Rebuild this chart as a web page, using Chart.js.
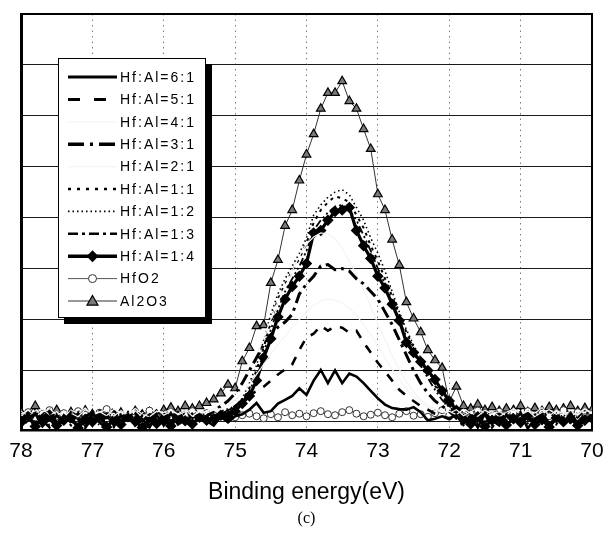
<!DOCTYPE html>
<html>
<head>
<meta charset="utf-8">
<script src="https://cdn.jsdelivr.net/npm/chart.js@4.4.1/dist/chart.umd.min.js"></script>
<style>
  html, body { margin: 0; padding: 0; background: #ffffff; }
  #wrap { width: 614px; height: 538px; }
</style>
</head>
<body>
<div id="wrap"><canvas id="c" width="614" height="538"></canvas></div>
<script>
// ---- data (binding energy in eV, intensity in arbitrary units: one grid step = 1) ----
const energy = [78.0,77.9,77.8,77.7,77.6,77.5,77.4,77.3,77.2,77.1,
  77.0,76.9,76.8,76.7,76.6,76.5,76.4,76.3,76.2,76.1,
  76.0,75.9,75.8,75.7,75.6,75.5,75.4,75.3,75.2,75.1,
  75.0,74.9,74.8,74.7,74.6,74.5,74.4,74.3,74.2,74.1,
  74.0,73.9,73.8,73.7,73.6,73.5,73.4,73.3,73.2,73.1,
  73.0,72.9,72.8,72.7,72.6,72.5,72.4,72.3,72.2,72.1,
  72.0,71.9,71.8,71.7,71.6,71.5,71.4,71.3,71.2,71.1,
  71.0,70.9,70.8,70.7,70.6,70.5,70.4,70.3,70.2,70.1,70.0];

const seriesNames = ['Hf:Al=6:1','Hf:Al=5:1','Hf:Al=4:1','Hf:Al=3:1','Hf:Al=2:1',
  'Hf:Al=1:1','Hf:Al=1:2','Hf:Al=1:3','Hf:Al=1:4','HfO2','Al2O3'];

const hf61 = [-0.05,0.08,0.15,-0.10,0.05,-0.12,0.12,0.00,-0.06,0.10,
  0.18,-0.02,-0.14,0.06,0.02,0.14,-0.08,0.04,-0.12,0.12,
  -0.04,0.16,-0.06,0.03,-0.10,0.13,0.01,-0.08,0.09,-0.02,
  0.10,0.14,0.23,0.36,0.17,0.20,0.35,0.42,0.50,0.65,
  0.52,0.80,1.01,0.75,1.00,0.75,0.94,0.88,0.75,0.60,
  0.45,0.33,0.26,0.24,0.23,0.28,0.18,0.02,0.05,0.10,
  0.06,0.12,-0.04,0.10,-0.12,0.15,0.02,-0.08,0.12,-0.02,
  0.17,-0.14,0.05,0.13,-0.06,0.08,-0.03,0.16,-0.10,0.04,0.11];

const hf51 = [0.10,-0.06,0.16,0.02,-0.12,0.12,-0.02,0.18,0.04,-0.09,
  0.14,0.00,0.08,-0.11,0.15,0.03,-0.05,0.11,0.02,0.14,
  -0.08,0.06,-0.01,0.12,-0.04,0.09,0.02,0.07,0.15,0.20,
  0.30,0.40,0.50,0.60,0.68,0.80,0.92,1.02,1.12,1.40,
  1.65,1.72,1.88,1.78,1.86,1.84,1.74,1.78,1.55,1.35,
  1.15,0.98,0.80,0.62,0.50,0.40,0.30,0.23,0.15,0.10,
  0.04,0.12,-0.07,0.06,0.15,-0.10,0.09,-0.02,0.14,0.03,
  -0.08,0.11,0.01,0.16,-0.04,0.08,-0.09,0.13,0.02,0.10,-0.03];

const hf41 = [0.14,0.22,0.10,0.18,0.25,0.12,0.20,0.16,0.09,0.23,
  0.15,0.19,0.11,0.24,0.17,0.13,0.21,0.08,0.18,0.26,
  0.12,0.20,0.15,0.23,0.10,0.19,0.16,0.22,0.25,0.32,
  0.42,0.55,0.72,0.92,1.12,1.32,1.50,1.68,1.85,2.00,
  2.15,2.28,2.36,2.40,2.38,2.32,2.22,2.08,1.90,1.70,
  1.48,1.25,1.02,0.82,0.64,0.48,0.36,0.28,0.22,0.18,
  0.20,0.13,0.24,0.17,0.10,0.22,0.15,0.19,0.12,0.25,
  0.16,0.21,0.09,0.18,0.23,0.14,0.20,0.11,0.17,0.24,0.15];

const hf31 = [0.02,0.14,-0.09,0.07,0.17,-0.05,0.10,0.01,0.15,-0.12,
  0.08,-0.02,0.13,-0.07,0.11,0.03,0.18,-0.10,0.06,-0.03,
  0.12,0.00,0.09,-0.06,0.14,0.04,0.10,0.20,0.30,0.40,
  0.55,0.75,1.00,1.25,1.50,1.70,1.85,1.95,2.10,2.50,
  2.70,2.85,3.05,3.08,2.98,3.00,2.95,2.80,2.70,2.55,
  2.40,2.15,1.90,1.60,1.30,1.00,0.75,0.55,0.40,0.30,
  0.20,0.06,-0.08,0.11,0.00,0.15,-0.11,0.07,0.02,0.13,
  -0.05,0.09,0.03,0.16,-0.09,0.05,-0.01,0.14,-0.04,0.08,0.02];

const hf21 = [0.20,0.11,0.17,0.24,0.13,0.19,0.08,0.22,0.16,0.26,
  0.12,0.18,0.23,0.10,0.21,0.15,0.25,0.14,0.09,0.20,
  0.17,0.24,0.13,0.19,0.22,0.16,0.20,0.25,0.30,0.40,
  0.55,0.75,1.00,1.30,1.65,2.00,2.35,2.65,2.95,3.25,
  3.48,3.62,3.70,3.68,3.58,3.40,3.15,2.88,2.58,2.25,
  1.92,1.60,1.30,1.02,0.78,0.58,0.42,0.32,0.25,0.20,
  0.16,0.23,0.11,0.19,0.26,0.14,0.21,0.09,0.18,0.24,
  0.13,0.20,0.16,0.27,0.10,0.22,0.15,0.19,0.12,0.25,0.17];

const hf11 = [0.20,0.06,-0.05,0.15,0.24,0.02,0.11,-0.08,0.18,0.07,
  -0.03,0.21,0.10,-0.06,0.16,0.03,0.23,-0.01,0.14,-0.07,
  0.19,0.05,-0.02,0.20,0.08,0.15,0.01,0.12,0.18,0.16,
  0.25,0.40,0.65,1.00,1.45,1.95,2.40,2.70,2.95,3.20,
  3.50,3.90,4.15,4.30,4.42,4.38,4.30,4.05,3.80,3.45,
  3.15,2.80,2.45,2.10,1.75,1.45,1.20,0.95,0.70,0.50,
  0.30,0.20,0.10,0.22,-0.04,0.14,0.02,0.24,-0.08,0.09,
  0.19,0.00,0.15,0.04,0.25,-0.06,0.12,0.20,0.01,0.08,0.17];

const hf12 = [0.15,0.02,0.21,0.06,-0.07,0.17,0.10,-0.04,0.22,0.03,
  0.14,-0.09,0.08,0.19,0.00,0.12,-0.06,0.17,0.05,0.23,
  -0.02,0.10,0.20,0.01,0.13,0.06,0.16,0.09,0.20,0.25,
  0.30,0.45,0.75,1.10,1.60,2.10,2.50,2.80,3.05,3.30,
  3.60,4.05,4.25,4.40,4.50,4.55,4.45,4.20,3.95,3.60,
  3.30,2.95,2.55,2.15,1.80,1.50,1.25,1.00,0.75,0.50,
  0.35,0.20,0.18,0.04,0.13,-0.06,0.21,0.08,-0.02,0.16,
  0.05,0.22,-0.08,0.11,0.19,0.02,0.14,-0.05,0.20,0.07,0.15];

const hf13 = [0.04,0.14,0.24,-0.08,0.08,0.19,0.00,0.15,0.09,-0.10,
  0.21,0.03,0.12,0.26,-0.06,0.17,0.05,0.22,-0.09,0.10,
  0.18,0.01,0.13,0.24,0.06,0.11,0.20,0.08,0.17,0.22,
  0.28,0.38,0.60,0.90,1.35,1.80,2.20,2.55,2.80,3.05,
  3.35,3.75,3.95,4.10,4.22,4.25,4.15,3.95,3.65,3.35,
  3.00,2.70,2.35,2.00,1.65,1.35,1.10,0.85,0.62,0.42,
  0.28,0.18,0.08,0.17,-0.07,0.22,0.10,0.00,0.18,0.05,
  0.24,-0.04,0.13,0.02,0.21,0.09,-0.06,0.16,0.07,0.23,0.01];

const hf14 = [-0.02,0.10,-0.10,0.05,0.13,-0.08,0.02,0.08,-0.13,0.04,
  -0.01,0.11,-0.11,0.03,-0.06,0.09,0.00,-0.12,0.06,-0.04,
  0.05,-0.09,0.10,0.01,-0.05,0.08,0.02,0.05,0.12,0.10,
  0.20,0.35,0.50,0.80,1.25,1.62,2.05,2.40,2.65,2.85,
  3.10,3.70,3.75,3.95,4.12,4.15,4.20,3.75,3.45,3.20,
  2.85,2.62,2.30,1.98,1.55,1.35,1.17,1.00,0.82,0.60,
  0.40,0.22,0.04,-0.05,0.09,-0.10,0.02,0.08,-0.07,0.05,
  -0.02,0.11,-0.06,0.03,-0.11,0.07,-0.01,0.05,-0.08,0.02,0.06];

const hfo2 = [0.12,0.18,0.08,0.15,0.22,0.10,0.16,0.06,0.20,0.13,
  0.09,0.17,0.24,0.11,0.14,0.07,0.19,0.12,0.21,0.09,
  0.15,0.18,0.10,0.13,0.20,0.08,0.16,0.12,0.10,0.14,
  0.08,0.12,0.15,0.10,0.06,0.14,0.08,0.18,0.12,0.15,
  0.10,0.16,0.20,0.14,0.12,0.18,0.22,0.15,0.10,0.13,
  0.17,0.12,0.08,0.15,0.20,0.11,0.14,0.09,0.16,0.22,
  0.12,0.18,0.10,0.15,0.21,0.08,0.14,0.19,0.11,0.16,
  0.09,0.20,0.13,0.17,0.10,0.15,0.22,0.12,0.18,0.08,0.14];

const al2o3 = [0.18,0.12,0.30,0.10,0.15,0.22,0.12,0.18,0.10,0.21,
  0.14,0.10,0.20,0.12,0.17,0.10,0.20,0.13,0.18,0.15,
  0.22,0.27,0.20,0.30,0.25,0.30,0.36,0.43,0.55,0.72,
  0.65,1.18,1.44,1.87,1.89,2.72,3.17,3.84,4.15,4.73,
  5.24,5.64,6.14,6.45,6.45,6.68,6.29,6.14,5.74,5.35,
  4.46,4.15,3.57,3.07,2.34,2.02,1.75,1.40,1.20,1.05,
  0.39,0.68,0.30,0.25,0.33,0.22,0.28,0.20,0.25,0.22,
  0.30,0.18,0.26,0.20,0.28,0.22,0.25,0.30,0.20,0.26,0.22];

const xTicks = [78,77,76,75,74,73,72,71,70];
const yGridValues = [0,1,2,3,4,5,6,7,8];

// ---- helpers ----
function pts(arr) { return arr.map((v, i) => ({ x: energy[i], y: v })); }

function ds(label, values, style) {
  return Object.assign({
    label: label,
    data: pts(values),
    borderColor: '#000000',
    backgroundColor: '#000000',
    borderWidth: 2,
    borderDash: [],
    pointRadius: 0,
    pointHoverRadius: 0,
    tension: 0,
    fill: false
  }, style);
}

const datasets = [
  ds(seriesNames[0], hf61, { borderWidth: 2.6, legendWidth: 3 }),
  ds(seriesNames[1], hf51, { borderWidth: 2.6, borderDash: [9, 9], legendWidth: 3, legendDash: [12, 14] }),
  ds(seriesNames[2], hf41, { borderColor: '#f4f4f4', backgroundColor: '#f4f4f4', borderWidth: 1.2 }),
  ds(seriesNames[3], hf31, { borderWidth: 3, borderDash: [12, 5, 3, 5], legendWidth: 3.5, legendDash: [16, 6, 3, 6] }),
  ds(seriesNames[4], hf21, { borderColor: '#f4f4f4', backgroundColor: '#f4f4f4', borderWidth: 1.2 }),
  ds(seriesNames[5], hf11, { borderWidth: 2, borderDash: [3, 5], legendWidth: 2.5, legendDash: [3, 6] }),
  ds(seriesNames[6], hf12, { borderWidth: 1.6, borderDash: [1.5, 3], legendWidth: 1.6, legendDash: [1.5, 3] }),
  ds(seriesNames[7], hf13, { borderWidth: 1.8, borderDash: [8, 3, 2, 3, 2, 3], legendWidth: 2.5, legendDash: [10, 4, 3, 4] }),
  ds(seriesNames[8], hf14, { borderWidth: 3.2, pointStyle: 'rectRot', pointRadius: 3.5,
       pointBackgroundColor: '#000', pointBorderColor: '#000', legendWidth: 3.5 }),
  ds(seriesNames[9], hfo2, { borderColor: '#555', borderWidth: 1, pointStyle: 'circle', pointRadius: 3.5,
       pointBackgroundColor: '#ffffff', pointBorderColor: '#333', pointBorderWidth: 1, legendWidth: 1 }),
  ds(seriesNames[10], al2o3, { borderColor: '#333', borderWidth: 1, pointStyle: 'triangle', pointRadius: 5,
       pointBackgroundColor: '#7a7a7a', pointBorderColor: '#000', pointBorderWidth: 1.2, legendWidth: 1 })
];

// ---- boxed legend drawn inside the plot (Excel style with black shadow) ----
const boxLegend = {
  id: 'boxLegend',
  afterDraw(chart) {
    const ctx = chart.ctx;
    const bx = 58, by = 58, bw = 148, bh = 260, sh = 6;
    ctx.save();
    ctx.fillStyle = '#000';
    ctx.fillRect(bx + sh, by + sh, bw, bh);
    ctx.fillStyle = '#fff';
    ctx.fillRect(bx, by, bw, bh);
    ctx.strokeStyle = '#000';
    ctx.lineWidth = 1;
    ctx.strokeRect(bx + 0.5, by + 0.5, bw - 1, bh - 1);
    const x0 = 68, x1 = 117, tx = 120;
    chart.data.datasets.forEach((d, k) => {
      const y = 77 + k * 22.4;
      ctx.save();
      ctx.strokeStyle = d.borderColor;
      ctx.lineWidth = d.legendWidth || d.borderWidth;
      ctx.setLineDash(d.legendDash || d.borderDash || []);
      ctx.beginPath(); ctx.moveTo(x0, y); ctx.lineTo(x1, y); ctx.stroke();
      ctx.setLineDash([]);
      const cx = (x0 + x1) / 2;
      if (d.pointStyle === 'triangle') {
        const r = 5.5;
        ctx.beginPath();
        ctx.moveTo(cx, y - r); ctx.lineTo(cx + r, y + r * 0.75); ctx.lineTo(cx - r, y + r * 0.75); ctx.closePath();
        ctx.fillStyle = d.pointBackgroundColor; ctx.fill();
        ctx.lineWidth = 1.2; ctx.strokeStyle = '#000'; ctx.stroke();
      } else if (d.pointStyle === 'circle') {
        ctx.beginPath(); ctx.arc(cx, y, 4, 0, Math.PI * 2);
        ctx.fillStyle = '#fff'; ctx.fill();
        ctx.lineWidth = 1; ctx.strokeStyle = '#333'; ctx.stroke();
      } else if (d.pointStyle === 'rectRot') {
        const r = 6;
        ctx.beginPath();
        ctx.moveTo(cx, y - r); ctx.lineTo(cx + r, y); ctx.lineTo(cx, y + r); ctx.lineTo(cx - r, y); ctx.closePath();
        ctx.fillStyle = '#000'; ctx.fill();
      }
      ctx.restore();
      ctx.save();
      ctx.fillStyle = '#000';
      ctx.font = '14px "Liberation Sans", Arial, sans-serif';
      if ('letterSpacing' in ctx) ctx.letterSpacing = '2px';
      ctx.textBaseline = 'middle';
      ctx.textAlign = 'left';
      ctx.fillText(d.label, tx, y + 1);
      ctx.restore();
    });
    ctx.restore();
  }
};

new Chart(document.getElementById('c'), {
  type: 'line',
  data: { datasets: datasets },
  plugins: [boxLegend],
  options: {
    responsive: false,
    animation: false,
    devicePixelRatio: 1,
    layout: { padding: { left: 21, right: 22, top: 14, bottom: 0 } },
    plugins: {
      legend: { display: false },
      tooltip: { enabled: false },
      title: {
        display: true,
        text: '(c)',
        position: 'bottom',
        color: '#000',
        font: { family: '"Liberation Serif", "Times New Roman", serif', size: 16, weight: 'normal' },
        padding: { top: 2, bottom: 10 }
      }
    },
    scales: {
      x: {
        type: 'linear',
        reverse: true,
        min: 70, max: 78,
        afterBuildTicks: s => { s.ticks = xTicks.map(v => ({ value: v })); },
        ticks: {
          color: '#000',
          padding: 9,
          maxRotation: 0,
          font: { family: '"Liberation Sans", Arial, sans-serif', size: 21 },
          callback: v => String(v)
        },
        grid: { color: '#7a7a7a', lineWidth: 1, drawTicks: false },
        border: { color: '#000', width: 2.5, dash: [1.5, 4] },
        title: {
          display: true,
          text: 'Binding energy(eV)',
          color: '#000',
          font: { family: '"Liberation Sans", Arial, sans-serif', size: 23 },
          padding: { top: 6, bottom: 0 }
        }
      },
      x2: {
        type: 'linear', position: 'top', min: 70, max: 78, reverse: true,
        ticks: { display: false },
        grid: { display: true, drawOnChartArea: false, drawTicks: false },
        border: { color: '#000', width: 2 }
      },
      y: {
        type: 'linear',
        min: -0.17, max: 8,
        afterBuildTicks: s => { s.ticks = yGridValues.map(v => ({ value: v })); },
        ticks: { display: false },
        grid: { color: '#1a1a1a', lineWidth: 1, drawTicks: false },
        border: { color: '#000', width: 3 }
      },
      y2: {
        type: 'linear', position: 'right', min: -0.17, max: 8,
        ticks: { display: false },
        grid: { display: true, drawOnChartArea: false, drawTicks: false },
        border: { color: '#000', width: 2 }
      }
    }
  }
});
</script>
</body>
</html>
